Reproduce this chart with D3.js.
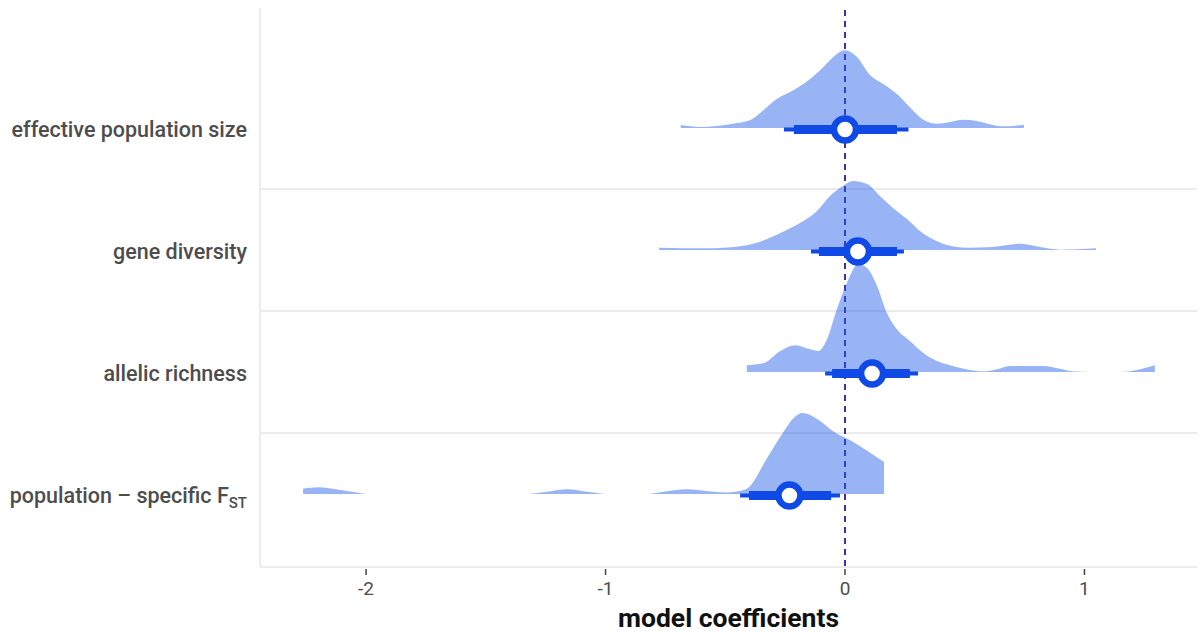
<!DOCTYPE html>
<html>
<head>
<meta charset="utf-8">
<script src="https://cdn.jsdelivr.net/npm/d3@7"></script>
<style>
  html, body { margin: 0; padding: 0; background: #fff; }
  svg { display: block; font-family: Roboto, "Noto Sans", sans-serif; }
</style>
</head>
<body>
<svg id="chart" width="1201" height="632"></svg>
<script>
// ---------- data ----------
const categories = ["effective population size", "gene diversity", "allelic richness", "population – specific F"];

// density curves: [coefficient, relative density]
const densityEffPop = [
  [-0.686,0.027],[-0.605,0.009],[-0.468,0.039],[-0.397,0.07],[-0.342,0.16],[-0.285,0.264],
  [-0.216,0.343],[-0.146,0.445],[-0.09,0.555],[-0.034,0.673],[0.0,0.706],[0.05,0.645],
  [0.105,0.479],[0.16,0.4],[0.217,0.309],[0.27,0.191],[0.327,0.075],[0.384,0.039],
  [0.44,0.055],[0.494,0.075],[0.55,0.064],[0.605,0.034],[0.66,0.015],[0.747,0.03]
];
const densityGeneDiv = [
  [-0.776,0.021],[-0.577,0.015],[-0.438,0.034],[-0.355,0.075],[-0.27,0.155],[-0.188,0.245],
  [-0.117,0.355],[-0.063,0.491],[-0.008,0.582],[0.033,0.627],[0.092,0.6],[0.146,0.491],
  [0.2,0.382],[0.259,0.282],[0.313,0.173],[0.367,0.097],[0.426,0.045],[0.509,0.021],
  [0.618,0.027],[0.734,0.057],[0.814,0.027],[0.898,0.003],[1.048,0.015]
];
const densityAllelic = [
  [-0.41,0.061],[-0.342,0.079],[-0.27,0.191],[-0.209,0.243],[-0.146,0.206],[-0.11,0.191],
  [-0.075,0.297],[-0.034,0.57],[0.008,0.809],[0.055,0.979],[0.092,0.945],[0.134,0.782],
  [0.175,0.536],[0.217,0.388],[0.271,0.282],[0.326,0.175],[0.384,0.1],[0.44,0.061],
  [0.522,0.018],[0.577,0.006],[0.635,0.025],[0.689,0.055],[0.772,0.055],[0.827,0.055],
  [0.898,0.03],[0.952,0.006],[1.023,0],[1.148,0],[1.219,0.018],[1.294,0.061]
];
const densityFst = [
  [-2.263,0.05],[-2.2,0.061],[-2.12,0.041],[-2.04,0.014],[-1.99,0],[-1.33,0],
  [-1.25,0.018],[-1.16,0.043],[-1.07,0.018],[-0.99,0],[-0.83,0],[-0.75,0.023],
  [-0.66,0.043],[-0.56,0.023],[-0.49,0.014],[-0.44,0.027],[-0.4,0.064],[-0.33,0.309],
  [-0.26,0.555],[-0.21,0.7],[-0.177,0.736],[-0.11,0.673],[-0.045,0.564],[0.02,0.491],
  [0.10,0.382],[0.163,0.291]
];
const densities = [densityEffPop, densityGeneDiv, densityAllelic, densityFst];

const pointEstimates = [0.0, 0.054, 0.113, -0.232];
const innerLower = [-0.213, -0.109, -0.054, -0.401];
const innerUpper = [0.217, 0.217, 0.271, -0.058];
const outerLower = [-0.255, -0.142, -0.083, -0.438];
const outerUpper = [0.265, 0.246, 0.305, -0.021];

const xTicks = [-2, -1, 0, 1];
const xTickLabels = ["-2", "-1", "0", "1"];
const xTitle = "model coefficients";

// ---------- layout ----------
const svg = d3.select("#chart");
const panel = { left: 260, right: 1197, top: 8, bottom: 567 };

const x = d3.scaleLinear().domain([-2.443, 1.47]).range([panel.left, panel.right]);
const y = d3.scalePoint().domain(categories).range([128, 494]);
const step = y.step();
const h = d3.scaleLinear().domain([0, 1]).range([0, 110]);

const markColor = "#0F4AE6";

// gridlines between categories
const mids = categories.slice(0, -1).map(c => y(c) + step / 2);
svg.append("g").selectAll("line").data(mids).join("line")
  .attr("x1", panel.left).attr("x2", panel.right)
  .attr("y1", d => d).attr("y2", d => d)
  .attr("stroke", "#e4e4e4").attr("stroke-width", 1.5);

// panel left & bottom borders
svg.append("line").attr("x1", panel.left).attr("x2", panel.left)
  .attr("y1", panel.top).attr("y2", panel.bottom)
  .attr("stroke", "#e6e6e6").attr("stroke-width", 1.5);
svg.append("line").attr("x1", panel.left).attr("x2", panel.right)
  .attr("y1", panel.bottom).attr("y2", panel.bottom)
  .attr("stroke", "#e6e6e6").attr("stroke-width", 1.5);

// reference dashed line at 0
svg.append("line").attr("x1", x(0)).attr("x2", x(0))
  .attr("y1", panel.top + 2).attr("y2", panel.bottom)
  .attr("stroke", "#2a1aa0").attr("stroke-width", 1.8)
  .attr("stroke-dasharray", "6,5");

// densities (semi-transparent over dashed line)
categories.forEach((c, i) => {
  const base = y(c);
  const area = d3.area()
    .x(d => x(d[0]))
    .y0(base)
    .y1(d => base - h(d[1]))
    .curve(d3.curveMonotoneX);
  svg.append("path").datum(densities[i])
    .attr("d", area)
    .attr("fill", "#1f5be8").attr("fill-opacity", 0.46);
});

// intervals and points
const gI = svg.append("g");
categories.forEach((c, i) => {
  const cy = y(c) + 1.5;
  gI.append("line").attr("x1", x(outerLower[i])).attr("x2", x(outerUpper[i]))
    .attr("y1", cy).attr("y2", cy).attr("stroke", markColor).attr("stroke-width", 4);
  gI.append("line").attr("x1", x(innerLower[i])).attr("x2", x(innerUpper[i]))
    .attr("y1", cy).attr("y2", cy).attr("stroke", markColor).attr("stroke-width", 9);
  gI.append("circle").attr("cx", x(pointEstimates[i])).attr("cy", cy)
    .attr("r", 11).attr("fill", "#fff").attr("stroke", markColor).attr("stroke-width", 6.5);
});

// x axis ticks and labels
const gx = svg.append("g");
gx.selectAll("line").data(xTicks).join("line")
  .attr("x1", d => x(d)).attr("x2", d => x(d))
  .attr("y1", panel.bottom + 2).attr("y2", panel.bottom + 8)
  .attr("stroke", "#444").attr("stroke-width", 1.5);
gx.selectAll("text").data(xTicks).join("text")
  .attr("x", d => x(d)).attr("y", 595)
  .attr("text-anchor", "middle")
  .attr("font-size", 19).attr("fill", "#4d4d4d")
  .text((d, i) => xTickLabels[i]);

svg.append("text").attr("x", (panel.left + panel.right) / 2).attr("y", 627)
  .attr("text-anchor", "middle").attr("font-size", 26.5).attr("font-weight", 700)
  .attr("fill", "#111").text(xTitle);

// y labels
const gy = svg.append("g");
categories.forEach((c, i) => {
  const t = gy.append("text").attr("x", 247).attr("y", y(c) + 8.5)
    .attr("text-anchor", "end").attr("font-size", 21.5).attr("font-weight", 500)
    .attr("fill", "#4d4d4d");
  t.append("tspan").text(c);
  if (i === categories.length - 1) {
    t.append("tspan").attr("font-size", 15).attr("dy", 5).text("ST");
  }
});
</script>
</body>
</html>
